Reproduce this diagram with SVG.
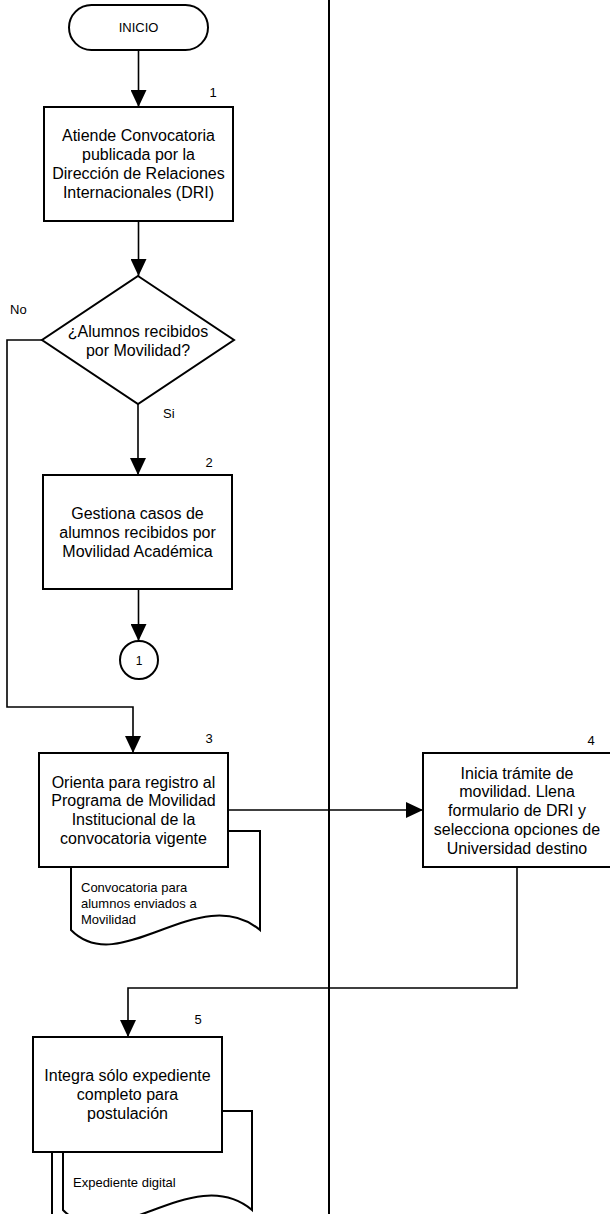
<svg xmlns="http://www.w3.org/2000/svg" width="610" height="1214" viewBox="0 0 610 1214">
<style>
.s{fill:#fff;stroke:#000;stroke-width:2}
.c{fill:none;stroke:#000;stroke-width:1.6}
.t{font-family:"Liberation Sans",Arial,sans-serif;font-size:16px;fill:#000;text-anchor:middle}
.m{font-family:"Liberation Sans",Arial,sans-serif;font-size:13px;fill:#000}
.mc{font-family:"Liberation Sans",Arial,sans-serif;font-size:13px;fill:#000;text-anchor:middle}
</style>
<defs>
<marker id="ah" markerUnits="userSpaceOnUse" markerWidth="17" markerHeight="16" refX="17" refY="8" orient="auto" viewBox="0 0 17 16">
<path d="M0,0 L17,8 L0,16 Z" fill="#000"/>
</marker>
</defs>
<rect width="610" height="1214" fill="#fff"/>
<line x1="329" y1="0" x2="329" y2="1214" stroke="#000" stroke-width="2"/>

<g id="connectors">
<line class="c" x1="138.5" y1="50" x2="138.5" y2="107" marker-end="url(#ah)"/>
<line class="c" x1="138.5" y1="221" x2="138.5" y2="276" marker-end="url(#ah)"/>
<line class="c" x1="138" y1="404" x2="138" y2="475" marker-end="url(#ah)"/>
<polyline class="c" points="42,340 7,340 7,707 133,707 133,753" marker-end="url(#ah)"/>
<line class="c" x1="138.5" y1="589" x2="138.5" y2="641" marker-end="url(#ah)"/>
<line class="c" x1="228" y1="810" x2="423" y2="810" marker-end="url(#ah)"/>
<polyline class="c" points="517,867 517,988 128,988 128,1037" marker-end="url(#ah)"/>
<text class="m" x="10" y="313.5">No</text>
<text class="m" x="163" y="418">Si</text>
</g>

<g id="inicio">
<rect class="s" x="69" y="5" width="139" height="45" rx="22.5"/>
<text class="mc" x="138.5" y="32">INICIO</text>
</g>

<g id="n1">
<rect class="s" x="44" y="107" width="189" height="114"/>
<text class="mc" x="213" y="96.5">1</text>
<text class="t" x="138.5" y="140.5">Atiende Convocatoria<tspan x="138.5" dy="19.3">publicada por la</tspan><tspan x="138.5" dy="19.3">Dirección de Relaciones</tspan><tspan x="138.5" dy="19.3">Internacionales (DRI)</tspan></text>
</g>

<g id="decision">
<polygon class="s" points="138,276 234,340 138,404 42,340"/>
<text class="t" x="138" y="336.5">¿Alumnos recibidos<tspan x="138" dy="19">por Movilidad?</tspan></text>
</g>

<g id="n2">
<rect class="s" x="43" y="475" width="189" height="114"/>
<text class="mc" x="209" y="466.5">2</text>
<text class="t" x="137.5" y="518.5">Gestiona casos de<tspan x="137.5" dy="19.3">alumnos recibidos por</tspan><tspan x="137.5" dy="19.3">Movilidad Académica</tspan></text>
</g>

<g id="conn1">
<circle class="s" cx="139" cy="660" r="19"/>
<text class="mc" x="139" y="664.5" style="font-size:12px">1</text>
</g>

<g id="doc3">
<path class="s" d="M71,831 L260,831 L260,930 C200,880 120,980 71,930 Z"/>
<text class="m" x="81" y="891.5">Convocatoria para<tspan x="81" dy="16">alumnos enviados a</tspan><tspan x="81" dy="16">Movilidad</tspan></text>
</g>

<g id="n3">
<rect class="s" x="39" y="753" width="189" height="114"/>
<text class="mc" x="209" y="742.5">3</text>
<text class="t" x="133.5" y="787.5">Orienta para registro al<tspan x="133.5" dy="18.8">Programa de Movilidad</tspan><tspan x="133.5" dy="18.8">Institucional de la</tspan><tspan x="133.5" dy="18.8">convocatoria vigente</tspan></text>
</g>

<g id="n4">
<rect class="s" x="423" y="753" width="195" height="114"/>
<text class="mc" x="591" y="744.5">4</text>
<text class="t" x="517" y="778.5">Inicia trámite de<tspan x="517" dy="18.8">movilidad. Llena</tspan><tspan x="517" dy="18.8">formulario de DRI y</tspan><tspan x="517" dy="18.8">selecciona opciones de</tspan><tspan x="517" dy="18.8">Universidad destino</tspan></text>
</g>

<g id="doc5">
<line x1="52" y1="1152" x2="52" y2="1214" stroke="#000" stroke-width="2"/>
<path class="s" d="M63,1111 L252,1111 L252,1210 C192,1160 112,1260 63,1210 Z"/>
<text class="m" x="73" y="1186.5">Expediente digital</text>
</g>

<g id="n5">
<rect class="s" x="33" y="1037" width="189" height="115"/>
<text class="mc" x="198" y="1023.5">5</text>
<text class="t" x="127.5" y="1081">Integra sólo expediente<tspan x="127.5" dy="19">completo para</tspan><tspan x="127.5" dy="19">postulación</tspan></text>
</g>
</svg>
